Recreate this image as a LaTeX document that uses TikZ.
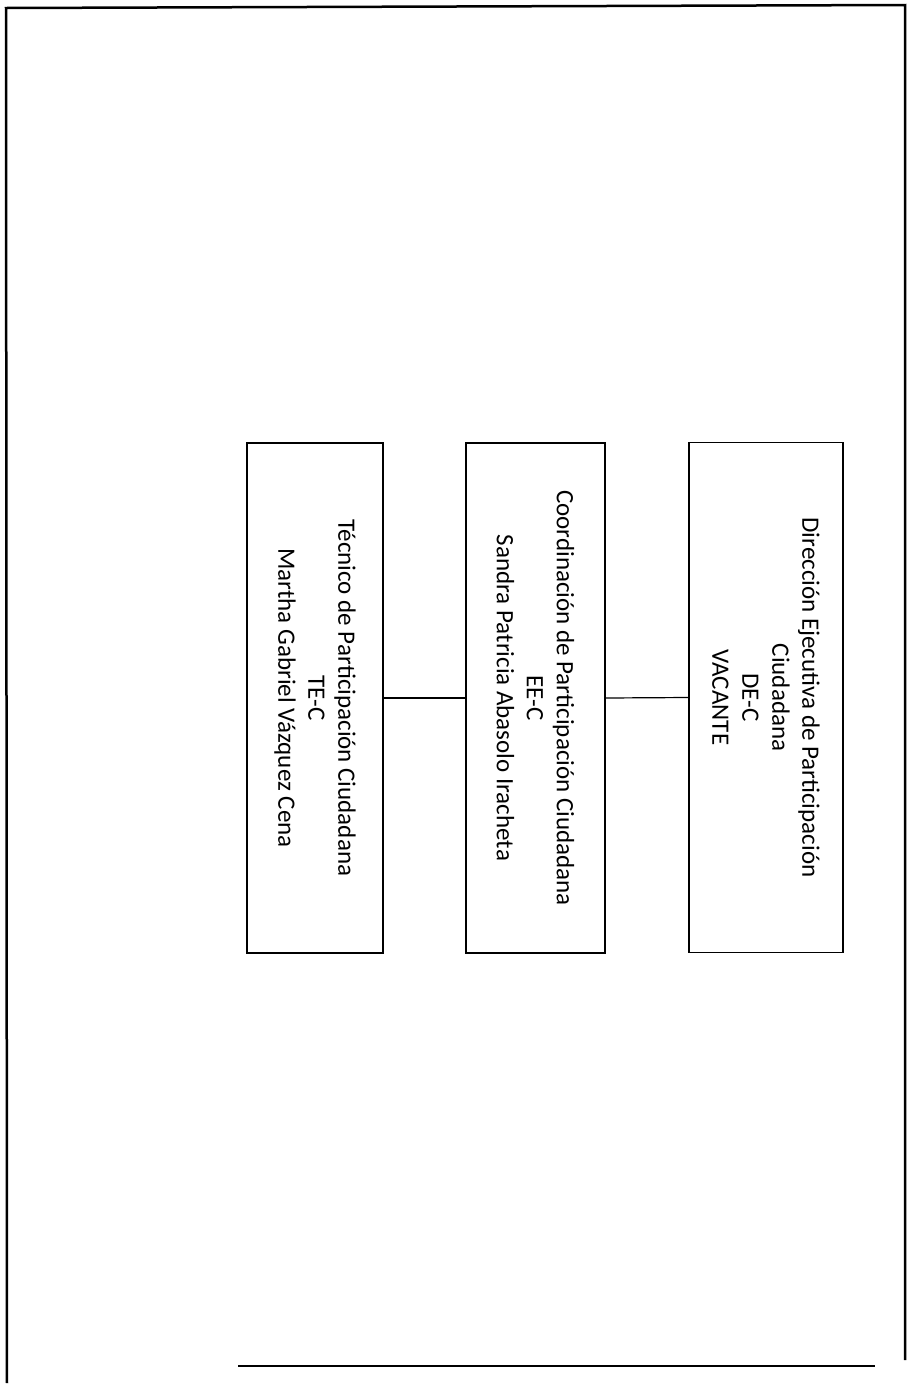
\documentclass[tikz,border=0pt]{standalone}
\usepackage{fontspec}
\setmainfont{Carlito}
\begin{document}
\begin{tikzpicture}[x=1pt,y=-1pt,
  orgbox/.style={draw=black,line width=1.8pt,rotate=-90,align=center,inner sep=0pt,
    font=\fontsize{25}{30}\selectfont,minimum width=510pt},
  link/.style={draw=black,line width=1.2pt}]
\useasboundingbox (0,0) rectangle (909,1385);
% page frame
\draw[line width=2.5pt] (238,1366) -- (875,1366);
\draw[line width=2.5pt] (7,1383) -- (6,8) -- (905,5) -- (905,1360);
% boxes
\node[orgbox,minimum height=136pt] (tec) at (315,698)
  {Técnico de Participación Ciudadana\\TE-C\\Martha Gabriel Vázquez Cena};
\node[orgbox,minimum height=139pt] (coord) at (535.5,698)
  {Coordinación de Participación Ciudadana\\EE-C\\Sandra Patricia Abasolo Iracheta};
\node[orgbox,minimum height=154pt] (dir) at (766,697.5)
  {Dirección Ejecutiva de Participación\\Ciudadana\\DE-C\\VACANTE};
% connectors
\draw[link] (tec.north) -- (coord.south);
\draw[link] (coord.north) -- (dir.south);
\end{tikzpicture}
\end{document}
